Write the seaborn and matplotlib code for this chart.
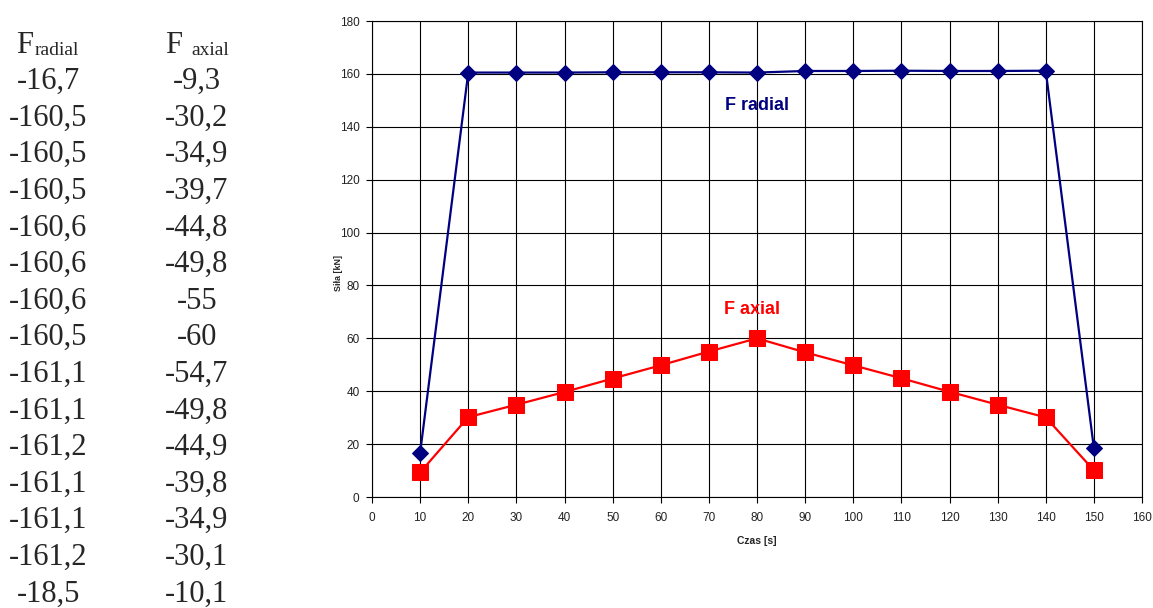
import numpy as np
import pandas as pd
import matplotlib
matplotlib.use("Agg")
import matplotlib.pyplot as plt
import seaborn as sns

# Time steps [s]
czas = [10, 20, 30, 40, 50, 60, 70, 80, 90, 100, 110, 120, 130, 140, 150]
# Measured force components [kN] (table values, sign as recorded)
f_radial_tab = ["-16,7", "-160,5", "-160,5", "-160,5", "-160,6", "-160,6", "-160,6", "-160,5",
                "-161,1", "-161,1", "-161,2", "-161,1", "-161,1", "-161,2", "-18,5"]
f_axial_tab = ["-9,3", "-30,2", "-34,9", "-39,7", "-44,8", "-49,8", "-55", "-60",
               "-54,7", "-49,8", "-44,9", "-39,8", "-34,9", "-30,1", "-10,1"]

# Magnitudes plotted on the chart
f_radial = [abs(float(v.replace(",", "."))) for v in f_radial_tab]
f_axial = [abs(float(v.replace(",", "."))) for v in f_axial_tab]

x_ticks = list(range(0, 161, 10))
y_ticks = list(range(0, 181, 20))

sns.set_style("white")
plt.rcParams["font.family"] = ["Liberation Sans", "DejaVu Sans"]

W, H = 1153, 608
fig = plt.figure(figsize=(W / 100, H / 100), dpi=100)

# ---- table of values on the left ----
serif = ["Liberation Serif", "DejaVu Serif"]


def px(x, y):
    return x / W, 1 - y / H


fig.text(*px(16, 53), "F", fontsize=22, family=serif, va="baseline", ha="left")
fig.text(*px(35, 55), "radial", fontsize=14, family=serif, va="baseline", ha="left")
fig.text(*px(165, 53), "F", fontsize=22, family=serif, va="baseline", ha="left")
fig.text(*px(191, 55), "axial", fontsize=14, family=serif, va="baseline", ha="left")

for i, (r, a) in enumerate(zip(f_radial_tab, f_axial_tab)):
    yb = 89 + 36.6 * i
    fig.text(*px(48.5, yb), r, fontsize=22, family=serif, va="baseline", ha="center")
    fig.text(*px(197, yb), a, fontsize=22, family=serif, va="baseline", ha="center")

# ---- chart ----
ax = fig.add_axes([372 / W, 1 - 497 / H, (1142 - 372) / W, (497 - 21) / H])

df = pd.DataFrame({"Czas": czas, "F radial": f_radial, "F axial": f_axial})

sns.lineplot(data=df, x="Czas", y="F radial", ax=ax, color="#000080", linewidth=1.6,
             marker="D", markersize=8.5, markeredgecolor="#000080", legend=False, zorder=3)
sns.lineplot(data=df, x="Czas", y="F axial", ax=ax, color="#FF0000", linewidth=1.6,
             marker="s", markersize=11, markeredgecolor="#FF0000", legend=False, zorder=3)

ax.set_xlim(0, 160)
ax.set_ylim(0, 180)
ax.set_xticks(x_ticks)
ax.set_yticks(y_ticks)
ax.grid(True, color="black", linewidth=0.8)
ax.set_axisbelow(True)
for s in ax.spines.values():
    s.set_color("black")
    s.set_linewidth(0.8)
ax.tick_params(axis="both", direction="out", length=4, width=0.8, color="black",
               labelsize=8.5, labelcolor="#222222", left=True, bottom=True)
ax.tick_params(axis="x", pad=7)
ax.tick_params(axis="y", pad=5)

ax.set_xlabel("Czas [s]", fontsize=7.5, fontweight="bold")
ax.set_ylabel("Siła [kN]", fontsize=6.5, fontweight="bold")
ax.xaxis.set_label_coords(0.5, -0.081)
ax.yaxis.set_label_coords(-0.038, 0.47)

ax.text(80, 148, "F radial", color="#000080", fontsize=13, fontweight="bold",
        ha="center", va="center")
ax.text(79, 71, "F axial", color="#FF0000", fontsize=13, fontweight="bold",
        ha="center", va="center")

fig.savefig("out.png", dpi=100, facecolor="white")
